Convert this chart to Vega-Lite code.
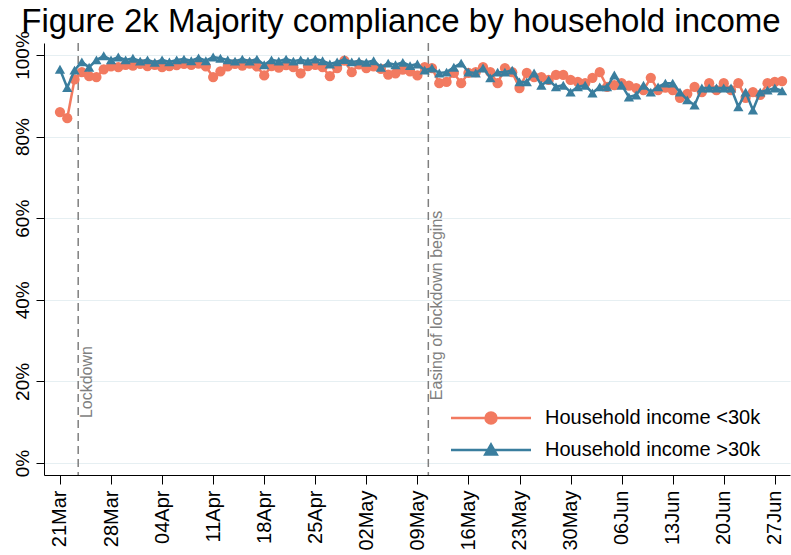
{
  "$schema": "https://vega.github.io/schema/vega-lite/v6.json",
  "width": 746,
  "height": 432,
  "autosize": {"type": "none"},
  "padding": {"left": 44, "top": 43, "right": 1, "bottom": 80},
  "background": "white",
  "title": {
    "text": "Figure 2k Majority compliance by household income",
    "font": "Liberation Sans",
    "fontSize": 33,
    "fontWeight": "normal",
    "color": "black",
    "anchor": "middle",
    "frame": "group",
    "dx": -16,
    "dy": 14,
    "offset": 6
  },
  "config": {
    "view": {"stroke": null},
    "font": "Liberation Sans",
    "axis": {
      "domainColor": "black",
      "domainWidth": 1,
      "tickColor": "black",
      "tickWidth": 1,
      "labelColor": "black",
      "labelFont": "Liberation Sans"
    }
  },
  "datasets": {
    "d": [
      {"d": "2020-03-21", "lo": 86.0, "hi": 96.5},
      {"d": "2020-03-22", "lo": 84.5, "hi": 92.0},
      {"d": "2020-03-23", "lo": 94.0, "hi": 96.3},
      {"d": "2020-03-24", "lo": 95.8, "hi": 98.3},
      {"d": "2020-03-25", "lo": 94.8, "hi": 97.0},
      {"d": "2020-03-26", "lo": 94.6, "hi": 98.8},
      {"d": "2020-03-27", "lo": 96.5, "hi": 99.8},
      {"d": "2020-03-28", "lo": 97.2, "hi": 98.8},
      {"d": "2020-03-29", "lo": 97.0, "hi": 99.5},
      {"d": "2020-03-30", "lo": 97.6, "hi": 98.8},
      {"d": "2020-03-31", "lo": 97.4, "hi": 99.2},
      {"d": "2020-04-01", "lo": 97.8, "hi": 98.5},
      {"d": "2020-04-02", "lo": 97.3, "hi": 98.8},
      {"d": "2020-04-03", "lo": 97.6, "hi": 98.2},
      {"d": "2020-04-04", "lo": 97.0, "hi": 98.8},
      {"d": "2020-04-05", "lo": 97.3, "hi": 98.3},
      {"d": "2020-04-06", "lo": 97.5, "hi": 98.8},
      {"d": "2020-04-07", "lo": 97.8, "hi": 99.0},
      {"d": "2020-04-08", "lo": 97.6, "hi": 98.6},
      {"d": "2020-04-09", "lo": 97.9, "hi": 99.3},
      {"d": "2020-04-10", "lo": 97.2, "hi": 98.6},
      {"d": "2020-04-11", "lo": 94.6, "hi": 99.5},
      {"d": "2020-04-12", "lo": 96.0, "hi": 99.2},
      {"d": "2020-04-13", "lo": 97.2, "hi": 98.8},
      {"d": "2020-04-14", "lo": 97.8, "hi": 98.5},
      {"d": "2020-04-15", "lo": 97.4, "hi": 99.0},
      {"d": "2020-04-16", "lo": 97.9, "hi": 98.5},
      {"d": "2020-04-17", "lo": 97.2, "hi": 99.0},
      {"d": "2020-04-18", "lo": 95.0, "hi": 97.6},
      {"d": "2020-04-19", "lo": 97.3, "hi": 98.8},
      {"d": "2020-04-20", "lo": 96.9, "hi": 98.5},
      {"d": "2020-04-21", "lo": 97.5, "hi": 99.0},
      {"d": "2020-04-22", "lo": 97.0, "hi": 98.5},
      {"d": "2020-04-23", "lo": 95.5, "hi": 98.8},
      {"d": "2020-04-24", "lo": 97.3, "hi": 98.5},
      {"d": "2020-04-25", "lo": 97.6, "hi": 99.0},
      {"d": "2020-04-26", "lo": 97.0, "hi": 98.6},
      {"d": "2020-04-27", "lo": 94.8, "hi": 97.8},
      {"d": "2020-04-28", "lo": 96.8, "hi": 98.3},
      {"d": "2020-04-29", "lo": 98.6, "hi": 98.9},
      {"d": "2020-04-30", "lo": 95.8, "hi": 98.3},
      {"d": "2020-05-01", "lo": 97.7, "hi": 98.5},
      {"d": "2020-05-02", "lo": 96.8, "hi": 98.2},
      {"d": "2020-05-03", "lo": 97.2, "hi": 98.6},
      {"d": "2020-05-04", "lo": 96.6, "hi": 97.0},
      {"d": "2020-05-05", "lo": 95.2, "hi": 98.0},
      {"d": "2020-05-06", "lo": 95.5, "hi": 97.6},
      {"d": "2020-05-07", "lo": 96.4, "hi": 98.2},
      {"d": "2020-05-08", "lo": 96.0, "hi": 97.4},
      {"d": "2020-05-09", "lo": 95.0, "hi": 97.8},
      {"d": "2020-05-10", "lo": 97.0, "hi": 96.3},
      {"d": "2020-05-11", "lo": 96.8, "hi": 96.8},
      {"d": "2020-05-12", "lo": 93.1, "hi": 95.6},
      {"d": "2020-05-13", "lo": 93.4, "hi": 95.8},
      {"d": "2020-05-14", "lo": 95.6, "hi": 97.0},
      {"d": "2020-05-15", "lo": 93.1, "hi": 98.0},
      {"d": "2020-05-16", "lo": 95.6, "hi": 95.8},
      {"d": "2020-05-17", "lo": 95.8, "hi": 95.6},
      {"d": "2020-05-18", "lo": 97.0, "hi": 96.8},
      {"d": "2020-05-19", "lo": 95.8, "hi": 94.4},
      {"d": "2020-05-20", "lo": 93.1, "hi": 95.8},
      {"d": "2020-05-21", "lo": 96.8, "hi": 95.8},
      {"d": "2020-05-22", "lo": 95.8, "hi": 96.3},
      {"d": "2020-05-23", "lo": 91.9, "hi": 93.4},
      {"d": "2020-05-24", "lo": 95.6, "hi": 93.4},
      {"d": "2020-05-25", "lo": 94.6, "hi": 95.6},
      {"d": "2020-05-26", "lo": 94.6, "hi": 92.6},
      {"d": "2020-05-27", "lo": 93.9, "hi": 93.9},
      {"d": "2020-05-28", "lo": 95.1, "hi": 92.2},
      {"d": "2020-05-29", "lo": 95.1, "hi": 92.6},
      {"d": "2020-05-30", "lo": 93.9, "hi": 90.9},
      {"d": "2020-05-31", "lo": 93.4, "hi": 92.2},
      {"d": "2020-06-01", "lo": 93.1, "hi": 92.6},
      {"d": "2020-06-02", "lo": 94.4, "hi": 90.7},
      {"d": "2020-06-03", "lo": 95.8, "hi": 92.2},
      {"d": "2020-06-04", "lo": 92.2, "hi": 92.2},
      {"d": "2020-06-05", "lo": 92.6, "hi": 95.1},
      {"d": "2020-06-06", "lo": 93.1, "hi": 92.6},
      {"d": "2020-06-07", "lo": 92.5, "hi": 89.7},
      {"d": "2020-06-08", "lo": 91.9, "hi": 90.2},
      {"d": "2020-06-09", "lo": 91.4, "hi": 92.6},
      {"d": "2020-06-10", "lo": 94.4, "hi": 90.9},
      {"d": "2020-06-11", "lo": 91.4, "hi": 92.2},
      {"d": "2020-06-12", "lo": 92.0, "hi": 93.1},
      {"d": "2020-06-13", "lo": 91.4, "hi": 93.1},
      {"d": "2020-06-14", "lo": 89.5, "hi": 90.9},
      {"d": "2020-06-15", "lo": 90.5, "hi": 89.0},
      {"d": "2020-06-16", "lo": 92.2, "hi": 87.7},
      {"d": "2020-06-17", "lo": 90.9, "hi": 91.9},
      {"d": "2020-06-18", "lo": 93.1, "hi": 91.9},
      {"d": "2020-06-19", "lo": 91.4, "hi": 91.9},
      {"d": "2020-06-20", "lo": 93.1, "hi": 91.9},
      {"d": "2020-06-21", "lo": 91.4, "hi": 91.9},
      {"d": "2020-06-22", "lo": 93.1, "hi": 87.3},
      {"d": "2020-06-23", "lo": 89.5, "hi": 90.9},
      {"d": "2020-06-24", "lo": 90.9, "hi": 86.5},
      {"d": "2020-06-25", "lo": 90.2, "hi": 90.9},
      {"d": "2020-06-26", "lo": 93.1, "hi": 91.4},
      {"d": "2020-06-27", "lo": 93.4, "hi": 91.9},
      {"d": "2020-06-28", "lo": 93.6, "hi": 91.2}
    ],
    "events": [
      {"ev": "2020-03-23T12:00:00Z", "label": "Lockdown"},
      {"ev": "2020-05-10T12:00:00Z", "label": "Easing of lockdown begins"}
    ]
  },
  "layer": [
    {
      "data": {"name": "events"},
      "mark": {"type": "rule", "color": "#7f7f7f", "strokeWidth": 1.5, "strokeDash": [8, 5]},
      "encoding": {
        "x": {"field": "ev", "type": "temporal", "title": null}
      }
    },
    {
      "data": {"name": "events"},
      "transform": [{"filter": "datum.label == 'Lockdown'"}],
      "mark": {"type": "text", "angle": 270, "align": "left", "baseline": "top", "dy": 1, "fontSize": 16, "color": "#7f7f7f", "font": "Liberation Sans"},
      "encoding": {
        "x": {"field": "ev", "type": "temporal", "title": null},
        "y": {"datum": 11},
        "text": {"field": "label"}
      }
    },
    {
      "data": {"name": "events"},
      "transform": [{"filter": "datum.label != 'Lockdown'"}],
      "mark": {"type": "text", "angle": 270, "align": "left", "baseline": "top", "dy": 1, "fontSize": 16, "color": "#7f7f7f", "font": "Liberation Sans"},
      "encoding": {
        "x": {"field": "ev", "type": "temporal", "title": null},
        "y": {"datum": 15.4},
        "text": {"field": "label"}
      }
    },
    {
      "data": {"name": "d"},
      "transform": [{"fold": ["lo", "hi"], "as": ["grp", "val"]}],
      "encoding": {
        "x": {
          "field": "d",
          "type": "temporal",
          "title": null,
          "scale": {
            "type": "utc",
            "domain": [
              {"year": 2020, "month": 3, "date": 18, "hours": 19, "minutes": 30, "utc": true},
              {"year": 2020, "month": 6, "date": 29, "hours": 2, "utc": true}
            ]
          },
          "axis": {
            "values": [
              {"year": 2020, "month": 3, "date": 21, "utc": true},
              {"year": 2020, "month": 3, "date": 28, "utc": true},
              {"year": 2020, "month": 4, "date": 4, "utc": true},
              {"year": 2020, "month": 4, "date": 11, "utc": true},
              {"year": 2020, "month": 4, "date": 18, "utc": true},
              {"year": 2020, "month": 4, "date": 25, "utc": true},
              {"year": 2020, "month": 5, "date": 2, "utc": true},
              {"year": 2020, "month": 5, "date": 9, "utc": true},
              {"year": 2020, "month": 5, "date": 16, "utc": true},
              {"year": 2020, "month": 5, "date": 23, "utc": true},
              {"year": 2020, "month": 5, "date": 30, "utc": true},
              {"year": 2020, "month": 6, "date": 6, "utc": true},
              {"year": 2020, "month": 6, "date": 13, "utc": true},
              {"year": 2020, "month": 6, "date": 20, "utc": true},
              {"year": 2020, "month": 6, "date": 27, "utc": true}
            ],
            "labelExpr": "utcFormat(datum.value, '%d%b')",
            "labelAngle": -90,
            "labelAlign": "right",
            "labelBaseline": "middle",
            "labelFontSize": 20,
            "labelPadding": 6,
            "tickSize": 9,
            "grid": false,
            "labelOverlap": false
          }
        },
        "y": {
          "field": "val",
          "type": "quantitative",
          "title": null,
          "scale": {"domain": [-2.94, 102.94], "nice": false, "zero": false},
          "axis": {
            "values": [0, 20, 40, 60, 80, 100],
            "labelExpr": "datum.value + '%'",
            "labelAngle": -90,
            "labelAlign": "center",
            "labelBaseline": "bottom",
            "labelFontSize": 19,
            "labelPadding": 4,
            "tickSize": 8,
            "grid": true,
            "gridColor": "#e6eff2",
            "gridWidth": 1
          }
        }
      },
      "layer": [
        {
          "transform": [{"filter": "datum.grp == 'lo'"}],
          "mark": {"type": "line", "strokeWidth": 2.5, "color": "#f27a60"}
        },
        {
          "transform": [{"filter": "datum.grp == 'lo'"}],
          "mark": {"type": "point", "filled": true, "opacity": 1, "size": 105, "shape": "circle", "color": "#f27a60"}
        },
        {
          "transform": [{"filter": "datum.grp == 'hi'"}],
          "mark": {"type": "line", "strokeWidth": 2.5, "color": "#3a7e9e"}
        },
        {
          "transform": [{"filter": "datum.grp == 'hi'"}],
          "mark": {"type": "point", "filled": true, "opacity": 1, "size": 105, "shape": "triangle-up", "color": "#3a7e9e"}
        },
        {
          "transform": [{"filter": "datum.val > 1000"}],
          "mark": {"type": "point", "filled": true, "opacity": 1},
          "encoding": {
            "fill": {"field": "grp", "type": "nominal", "scale": {"domain": ["lo", "hi"], "range": ["#f27a60", "#3a7e9e"]},
              "legend": {"orient": "none", "legendX": 437, "legendY": 365, "title": null, "padding": 0, "labelExpr": "datum.value == 'lo' ? 'Household income <30k' : 'Household income >30k'", "labelFontSize": 20, "labelLimit": 400, "labelFont": "Liberation Sans", "labelColor": "black", "symbolSize": 100, "symbolStrokeWidth": 2.5, "symbolOpacity": 1, "labelOffset": 44, "rowPadding": 10}},
            "stroke": {"field": "grp", "type": "nominal", "scale": {"domain": ["lo", "hi"], "range": ["#f27a60", "#3a7e9e"]},
              "legend": {"orient": "none", "legendX": 437, "legendY": 365, "title": null, "padding": 0, "labelExpr": "datum.value == 'lo' ? 'Household income <30k' : 'Household income >30k'", "labelFontSize": 20, "labelLimit": 400, "labelFont": "Liberation Sans", "labelColor": "black", "symbolSize": 100, "symbolStrokeWidth": 2.5, "symbolOpacity": 1, "labelOffset": 44, "rowPadding": 10}},
            "shape": {"field": "grp", "type": "nominal", "scale": {"domain": ["lo", "hi"], "range": ["M-8,0L8,0M1.1,0A1.1,1.1,0,1,1,-1.1,0A1.1,1.1,0,1,1,1.1,0Z", "M-8,0L8,0M0,-1.1L1.15,0.9L-1.15,0.9Z"]},
              "legend": {"orient": "none", "legendX": 437, "legendY": 365, "title": null, "padding": 0, "labelExpr": "datum.value == 'lo' ? 'Household income <30k' : 'Household income >30k'", "labelFontSize": 20, "labelLimit": 400, "labelFont": "Liberation Sans", "labelColor": "black", "symbolSize": 100, "symbolStrokeWidth": 2.5, "symbolOpacity": 1, "labelOffset": 44, "rowPadding": 10}}
          }
        }
      ]
    }
  ]
}
